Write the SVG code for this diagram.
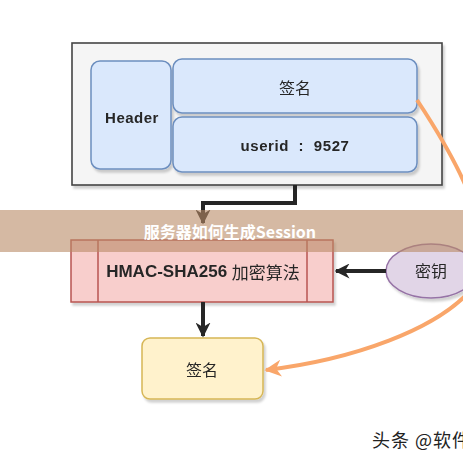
<svg xmlns="http://www.w3.org/2000/svg" width="463" height="463" viewBox="0 0 463 463">
<defs>
<filter id="sh" x="-10%" y="-10%" width="130%" height="140%">
<feDropShadow dx="2" dy="3" stdDeviation="1.2" flood-color="#000" flood-opacity="0.18"/>
</filter>
<marker id="ab" viewBox="0 0 10 10" refX="9" refY="5" markerWidth="15" markerHeight="15" orient="auto" markerUnits="userSpaceOnUse">
<path d="M0,0 L10,5 L0,10 L3,5 Z" fill="#262626"/>
</marker>
<marker id="ao" viewBox="0 0 10 10" refX="9" refY="5" markerWidth="17" markerHeight="17" orient="auto" markerUnits="userSpaceOnUse">
<path d="M0,0 L10,5 L0,10 L3,5 Z" fill="#f9a66a"/>
</marker>
<style>
.t{font-family:"Liberation Sans","Noto Sans CJK SC",sans-serif;fill:#262626;text-anchor:middle;dominant-baseline:central}
.cn{font-family:"Noto Sans CJK SC",sans-serif;font-size:16px;fill:#262626;text-anchor:middle;dominant-baseline:central}
.b{font-weight:bold}
.blue{fill:#dae8fc;stroke:#6c8ebf;stroke-width:1.5}
.k{fill:none;stroke:#262626;stroke-width:4}
</style>
</defs>
<g id="container" filter="url(#sh)">
<rect x="72" y="43" width="370" height="142" fill="#f5f5f5" stroke="#444" stroke-width="1.6"/>
</g>
<g id="header" filter="url(#sh)">
<rect class="blue" x="91" y="61" width="80" height="108" rx="9"/>
<text class="t b" x="132" y="117" font-size="15" letter-spacing="0.5">Header</text>
</g>
<g id="sign-field" filter="url(#sh)">
<rect class="blue" x="173" y="59" width="244" height="54" rx="9"/>
<text class="cn" x="295" y="87">签名</text>
</g>
<g id="userid" filter="url(#sh)">
<rect class="blue" x="173" y="117" width="244" height="55" rx="9"/>
<text class="t b" x="295" y="145" font-size="15" letter-spacing="0.6" xml:space="preserve">userid  :  9527</text>
</g>
<g id="hmac" filter="url(#sh)">
<rect x="71" y="240" width="262" height="62" fill="#f8cecc" stroke="#b85450" stroke-width="1.5"/>
<line x1="98" y1="240" x2="98" y2="302" stroke="#b85450" stroke-width="1.5"/>
<line x1="307" y1="240" x2="307" y2="302" stroke="#b85450" stroke-width="1.5"/>
<text class="t b" x="203" y="271" font-size="17">HMAC-SHA256 <tspan font-family="Noto Sans CJK SC,sans-serif" font-weight="normal">加密算法</tspan></text>
</g>
<g id="key" filter="url(#sh)">
<ellipse cx="431" cy="271" rx="45" ry="27" fill="#e1d5e7" stroke="#9673a6" stroke-width="1.5"/>
<text class="cn" x="431" y="270">密钥</text>
</g>
<g id="signature" filter="url(#sh)">
<rect x="142" y="338" width="121" height="61" rx="8" fill="#fff2cc" stroke="#d6b656" stroke-width="1.5"/>
<text class="cn" x="202" y="369">签名</text>
</g>
<g id="connectors">
<path class="k" d="M295,185 L295,203 L203,203 L203,223" marker-end="url(#ab)"/>
<path class="k" d="M203,302 L203,336" marker-end="url(#ab)"/>
<path class="k" d="M386,271 L336,271" marker-end="url(#ab)"/>
<path d="M417,100 C460,165 500,240 475,285 C440,330 350,360 266,370" fill="none" stroke="#f9a66a" stroke-width="4" marker-end="url(#ao)"/>
</g>
<g id="banner">
<rect x="0" y="210" width="463" height="42" fill="#b98a66" fill-opacity="0.6"/>
<text x="230" y="231" font-family="Noto Sans CJK SC,sans-serif" font-weight="bold" font-size="16" fill="#fff" text-anchor="middle" dominant-baseline="central">服务器如何生成Session</text>
</g>
<text x="372" y="439" font-family="Noto Sans CJK SC,sans-serif" font-size="18" letter-spacing="1" fill="#222" dominant-baseline="central">头条 @软件</text>
</svg>
